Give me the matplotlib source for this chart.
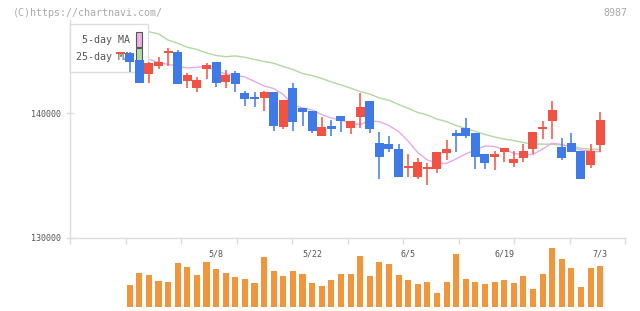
import numpy as np
import matplotlib
matplotlib.use("Agg")
import matplotlib.pyplot as plt
from matplotlib.patches import Rectangle
from matplotlib.ticker import FixedLocator, NullFormatter, FixedFormatter

# ---------------- data ----------------
dates = ["4/21", "4/22", "4/23", "4/24", "4/25", "4/28", "4/30", "5/1", "5/2", "5/7",
         "5/8", "5/9", "5/12", "5/13", "5/14", "5/15", "5/16", "5/19", "5/20", "5/21",
         "5/22", "5/23", "5/26", "5/27", "5/28", "5/29", "5/30", "6/2", "6/3", "6/4",
         "6/5", "6/6", "6/9", "6/10", "6/11", "6/12", "6/13", "6/16", "6/17", "6/18",
         "6/19", "6/20", "6/23", "6/24", "6/25", "6/26", "6/27", "6/30", "7/1", "7/2",
         "7/3"]

open_ = [144800, 144870, 144290, 143180, 143830, 144870, 144930, 142620, 142060, 143590,
         144130, 142540, 143240, 141660, 141340, 141230, 141710, 138920, 142030, 140430,
         140190, 138200, 138980, 139780, 138840, 139730, 140990, 137640, 137530, 137130,
         135630, 134900, 135550, 135550, 136830, 138420, 138820, 138420, 136730, 136510,
         136890, 136030, 136410, 137130, 138740, 139380, 137290, 137610, 136970, 135840,
         137450]
high = [144830, 144900, 144290, 144150, 144500, 145230, 145090, 143260, 142940, 144070,
        144130, 143480, 143400, 141820, 141740, 141820, 141710, 141070, 142440, 140430,
        140190, 139700, 139460, 139780, 139380, 141630, 140990, 138500, 138180, 137530,
        136730, 136410, 136000, 136890, 137850, 138660, 139620, 138420, 136730, 136970,
        137210, 136970, 137530, 138500, 139380, 140990, 138020, 138420, 136970, 137530,
        140100]
low = [144800, 143350, 142460, 142460, 143590, 143830, 142380, 142060, 141740, 142780,
       142140, 142060, 141740, 140610, 140530, 140210, 138600, 138760, 138600, 138980,
       138440, 138200, 138200, 138520, 138360, 138840, 138440, 134740, 136910, 134900,
       134900, 134740, 134260, 135230, 136250, 136890, 138020, 135550, 135550, 135440,
       136090, 135710, 136090, 136730, 137930, 137930, 136250, 136890, 134720, 135600,
       136890]
close = [144830, 144150, 142460, 144040, 144130, 144920, 142380, 143100, 142680, 143880,
         142460, 143080, 142380, 141170, 141170, 141710, 138980, 141070, 139330, 140130,
         138600, 138900, 138760, 139410, 139380, 140510, 138760, 136510, 137160, 134900,
         135760, 136090, 135680, 136890, 137130, 138200, 138200, 136510, 136030, 136730,
         137210, 136330, 136970, 138500, 138900, 140270, 136410, 136890, 134720, 136970,
         139460]

volume = [np.nan, 21700, 33700, 31700, 25700, 24700, 43700, 39700, 31700, 44700,
          37700, 33700, 29700, 27700, 23700, 49700, 35700, 30700, 35700, 32700,
          23700, 20700, 26700, 32700, 32700, 50700, 30700, 44700, 42700, 31700,
          26700, 22700, 24700, 13700, 24700, 52700, 27700, 24700, 22700, 24700,
          26700, 23700, 30700, 17700, 32700, 58700, 47700, 38700, 19700, 38700,
          40700]

ma5 = [144850, 144690, 144530, 144340, 144080, 143940, 143790, 143640, 143700, 143760,
       143400, 143160, 143040, 142920, 142560, 142200, 141990, 141510, 140670, 140430,
       140270, 139900, 139620, 139460, 139160, 139100, 139380, 139330, 139020, 138540,
       137770, 136850, 136250, 135970, 135970, 136330, 136730, 137050, 137370, 137330,
       137090, 136790, 136650, 136690, 137130, 137610, 137490, 137250, 137050, 136970,
       136910]
ma25 = [147120, 146940, 146750, 146560, 146380, 145890, 145630, 145310, 145130, 144850,
        144650, 144550, 144610, 144500, 144330, 144170, 144020, 143760, 143520, 143200,
        143040, 142800, 142520, 142280, 142030, 141740, 141550, 141230, 141050, 140710,
        140400, 140070, 139860, 139540, 139330, 139020, 138780, 138540, 138300, 138100,
        137930, 137810, 137650, 137530, 137520, 137510, 137450, 137370, 137190, 137110,
        137110]

date_labels = ["5/8", "5/22", "6/5", "6/19", "7/3"]
price_ticks = [130000, 140000]
legend_labels = ["5-day MA", "25-day MA"]
copyright_text = "(C)https://chartnavi.com/"
code_text = "8987"

# ---------------- style ----------------
W, H = 640, 311
RED = "#f25243"
BLUE = "#3f7be8"
ORANGE = "#f0963c"
PINK = "#e6aaea"
GREEN = "#b2d9a3"
GRID = "#dddddd"
TXT = "#555555"
MONO = "DejaVu Sans Mono"
PX = 72.0 / 100.0  # one pixel in points


def fx(x):
    return x / W


def fy(y):
    return 1 - y / H


fig = plt.figure(figsize=(W / 100, H / 100), dpi=100)
fig.patch.set_facecolor("white")

ax = fig.add_axes([fx(70), fy(237.7), (625 - 70) / W, (237.7 - 20) / H])
vax = fig.add_axes([fx(70), fy(306.7), (625 - 70) / W, (306.7 - 246) / H])

n = len(close)
xs = np.arange(n) - 1  # candle slot positions
xmin, xmax = -6.22, 51.59
ax.set_xlim(xmin, xmax)
ax.set_ylim(130000, 147500)
vax.set_xlim(xmin, xmax)
vax.set_ylim(0, 60700)

# moving averages (behind legend)
ax.plot(xs, ma25, color=GREEN, lw=1.0, zorder=2)
ax.plot(xs, ma5, color=PINK, lw=1.0, zorder=2)

# candles
min_body = 120
for x, o, h, l, c in zip(xs, open_, high, low, close):
    col = RED if c >= o else BLUE
    ax.vlines(x, l, h, color=col, lw=1.1, zorder=5)
    bot = min(o, c)
    hgt = max(abs(c - o), min_body)
    ax.bar(x, hgt, bottom=bot, width=0.93, color=col, linewidth=0, zorder=6)

# volume
vx = [x for x, v in zip(xs, volume) if not np.isnan(v)]
vv = [v for v in volume if not np.isnan(v)]
vax.bar(vx, vv, width=0.63, color=ORANGE, linewidth=0)
vax.axis("off")

# spines / ticks
for s in ["top", "right"]:
    ax.spines[s].set_visible(False)
for s in ["left", "bottom"]:
    ax.spines[s].set_color(GRID)
    ax.spines[s].set_linewidth(1.0)

ax.set_yticks(price_ticks)
ax.set_yticklabels([f"{t}" for t in price_ticks])
ax.tick_params(axis="y", direction="inout", length=7.5 * PX, width=1.0,
               color=GRID, labelsize=6, labelcolor=TXT, pad=3.6)
for lab in ax.get_yticklabels():
    lab.set_family(MONO)

major = np.linspace(xmin, xmax, 11)
ax.xaxis.set_major_locator(FixedLocator(major))
ax.xaxis.set_major_formatter(NullFormatter())
label_pos = [dates.index(d) - 1 for d in date_labels]
ax.xaxis.set_minor_locator(FixedLocator(label_pos))
ax.xaxis.set_minor_formatter(FixedFormatter(date_labels))
ax.tick_params(axis="x", which="major", direction="out", length=5.6 * PX, width=1.0,
               color=GRID)
ax.tick_params(axis="x", which="minor", length=0, labelsize=6, labelcolor=TXT, pad=8.3)
for lab in ax.get_xticklabels(minor=True):
    lab.set_family(MONO)

# legend (above MA lines, below candles)
leg_box = Rectangle((fx(70), fy(71.7)), 78 / W, 47.7 / H, transform=fig.transFigure,
                    facecolor="white", edgecolor=GRID, lw=1.0, zorder=3, clip_on=False)
ax.add_patch(leg_box)
sw_cols = ["#e8b4e8", "#b4dca8"]
text_y = [40, 56.5]
sw_y = [31.7, 48.3]
for lbl, ty, sy, sc in zip(legend_labels, text_y, sw_y, sw_cols):
    ax.text(fx(130), fy(ty), lbl, transform=fig.transFigure, ha="right", va="center",
            fontsize=7.2, family=MONO, color=TXT, zorder=4, clip_on=False)
    ax.add_patch(Rectangle((fx(136), fy(sy + 15)), 6.3 / W, 15 / H, transform=fig.transFigure,
                           facecolor=sc, edgecolor=TXT, lw=0.8, zorder=4, clip_on=False))

# header texts
fig.text(fx(13), fy(12.5), copyright_text, ha="left", va="center", fontsize=7.2,
         family=MONO, color="#aaaaaa")
fig.text(fx(627), fy(12.5), code_text, ha="right", va="center", fontsize=7.2,
         family=MONO, color="#aaaaaa")

fig.savefig("out.png", dpi=100, facecolor="white")
